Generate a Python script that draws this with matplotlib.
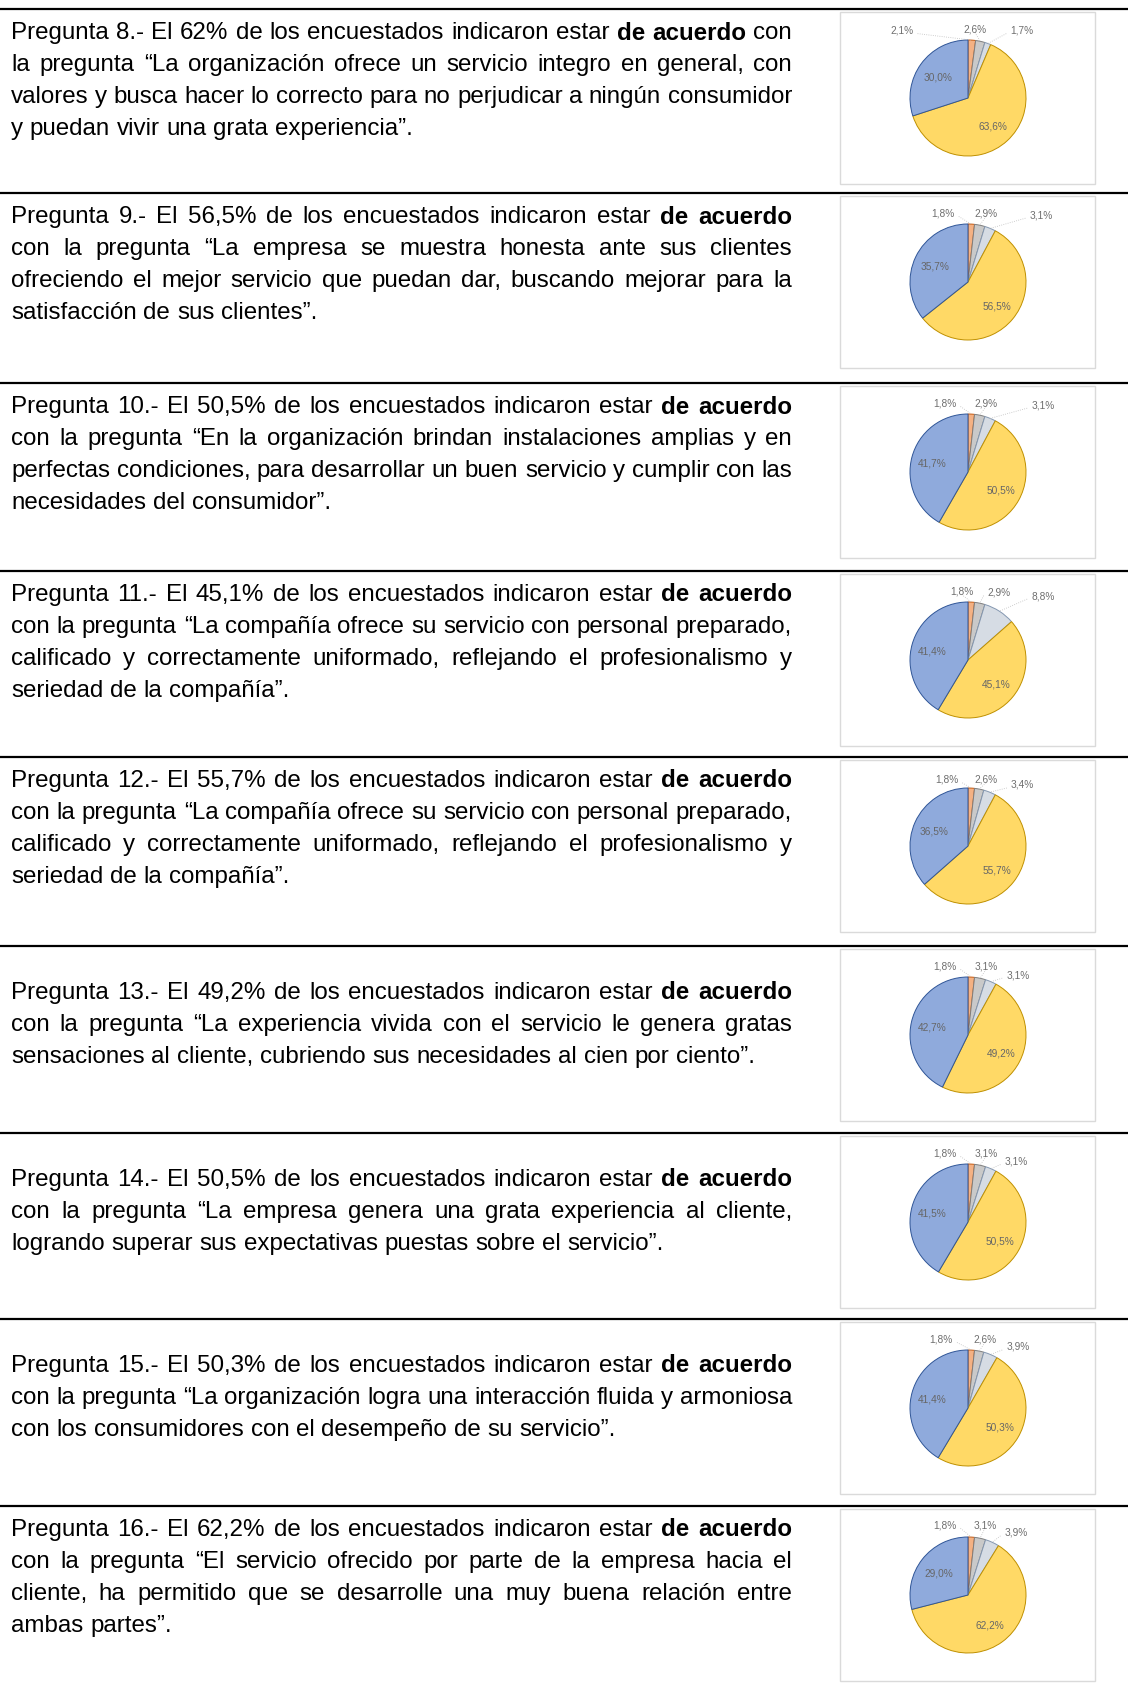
import matplotlib
matplotlib.use("Agg")
import matplotlib.pyplot as plt
from matplotlib.patches import Rectangle
import numpy as np

# --- datos ---
preguntas = [8, 9, 10, 11, 12, 13, 14, 15, 16]

parrafos = [
    ["Pregunta 8.- El 62% de los encuestados indicaron estar **de acuerdo** con",
     "la pregunta “La organización ofrece un servicio integro en general, con",
     "valores y busca hacer lo correcto para no perjudicar a ningún consumidor",
     "y puedan vivir una grata experiencia”."],
    ["Pregunta 9.- El 56,5% de los encuestados indicaron estar **de acuerdo**",
     "con la pregunta “La empresa se muestra honesta ante sus clientes",
     "ofreciendo el mejor servicio que puedan dar, buscando mejorar para la",
     "satisfacción de sus clientes”."],
    ["Pregunta 10.- El 50,5% de los encuestados indicaron estar **de acuerdo**",
     "con la pregunta “En la organización brindan instalaciones amplias y en",
     "perfectas condiciones, para desarrollar un buen servicio y cumplir con las",
     "necesidades del consumidor”."],
    ["Pregunta 11.- El 45,1% de los encuestados indicaron estar **de acuerdo**",
     "con la pregunta “La compañía ofrece su servicio con personal preparado,",
     "calificado y correctamente uniformado, reflejando el profesionalismo y",
     "seriedad de la compañía”."],
    ["Pregunta 12.- El 55,7% de los encuestados indicaron estar **de acuerdo**",
     "con la pregunta “La compañía ofrece su servicio con personal preparado,",
     "calificado y correctamente uniformado, reflejando el profesionalismo y",
     "seriedad de la compañía”."],
    ["Pregunta 13.- El 49,2% de los encuestados indicaron estar **de acuerdo**",
     "con la pregunta “La experiencia vivida con el servicio le genera gratas",
     "sensaciones al cliente, cubriendo sus necesidades al cien por ciento”."],
    ["Pregunta 14.- El 50,5% de los encuestados indicaron estar **de acuerdo**",
     "con la pregunta “La empresa genera una grata experiencia al cliente,",
     "logrando superar sus expectativas puestas sobre el servicio”."],
    ["Pregunta 15.- El 50,3% de los encuestados indicaron estar **de acuerdo**",
     "con la pregunta “La organización logra una interacción fluida y armoniosa",
     "con los consumidores con el desempeño de su servicio”."],
    ["Pregunta 16.- El 62,2% de los encuestados indicaron estar **de acuerdo**",
     "con la pregunta “El servicio ofrecido por parte de la empresa hacia el",
     "cliente, ha permitido que se desarrolle una muy buena relación entre",
     "ambas partes”."],
]

# porcentajes de cada pastel (3 respuestas pequeñas, de acuerdo, totalmente de acuerdo)
pie_q8 = [2.1, 2.6, 1.7, 63.6, 30.0]
pie_q9 = [1.8, 2.9, 3.1, 56.5, 35.7]
pie_q10 = [1.8, 2.9, 3.1, 50.5, 41.7]
pie_q11 = [1.8, 2.9, 8.8, 45.1, 41.4]
pie_q12 = [1.8, 2.6, 3.4, 55.7, 36.5]
pie_q13 = [1.8, 3.1, 3.1, 49.2, 42.7]
pie_q14 = [1.8, 3.1, 3.1, 50.5, 41.5]
pie_q15 = [1.8, 2.6, 3.9, 50.3, 41.4]
pie_q16 = [1.8, 3.1, 3.9, 62.2, 29.0]
pies = [pie_q8, pie_q9, pie_q10, pie_q11, pie_q12, pie_q13, pie_q14, pie_q15, pie_q16]

# --- estilo / layout ---
W, H = 1128, 1690
FONT = "Liberation Sans"
row_tops = [10, 194, 384, 572, 758, 947, 1134, 1320, 1507]
X0, X1 = 11, 792
LINE_SP = 32
pie_colors = ["#F4B183", "#C9C9C9", "#D6DCE4", "#FFD966", "#8FAADC"]
pie_edges = ["#C55A11", "#7F7F7F", "#8497B0", "#BF9000", "#2F5597"]
# posiciones (en radios) de las etiquetas exteriores de cada pastel
label_xy = [
    [(-1.14, 1.18), (0.12, 1.2), (0.93, 1.18)],
    [(-0.43, 1.2), (0.31, 1.2), (1.26, 1.17)],
    [(-0.4, 1.2), (0.31, 1.2), (1.29, 1.17)],
    [(-0.11, 1.2), (0.54, 1.18), (1.29, 1.12)],
    [(-0.37, 1.16), (0.31, 1.16), (0.94, 1.07)],
    [(-0.4, 1.2), (0.31, 1.2), (0.86, 1.05)],
    [(-0.4, 1.2), (0.31, 1.2), (0.83, 1.06)],
    [(-0.46, 1.2), (0.29, 1.2), (0.86, 1.07)],
    [(-0.4, 1.22), (0.29, 1.22), (0.83, 1.09)],
]

fig = plt.figure(figsize=(W / 100, H / 100), dpi=100)
ax = fig.add_axes([0, 0, 1, 1])
ax.set_xlim(0, W)
ax.set_ylim(H, 0)
ax.axis("off")
renderer = fig.canvas.get_renderer()


def text_w(s, bold, fs):
    t = ax.text(0, 0, s, fontsize=fs, family=FONT, fontweight="bold" if bold else "normal")
    w = t.get_window_extent(renderer).width
    t.remove()
    return w


def split_words(line):
    words = []
    for k, seg in enumerate(line.split("**")):
        for w in seg.split():
            words.append((w, k % 2 == 1))
    return words


# tamaño de letra ajustado a la primera línea de la pregunta 8
ws = split_words(parrafos[0][0])
nat = sum(text_w(w, b, 10) for w, b in ws) + (len(ws) - 1) * (text_w("a a", False, 10) - text_w("aa", False, 10))
FS = 10 * (X1 - X0) / nat
SPACE = text_w("a a", False, FS) - text_w("aa", False, FS)

for i, top in enumerate(row_tops):
    ax.plot([0, W], [top, top], color="black", lw=1.6, solid_capstyle="butt")

    lines = parrafos[i]
    n = len(lines)
    y0 = top + (23 if n == 4 else 46)
    for j, line in enumerate(lines):
        words = split_words(line)
        widths = [text_w(w, b, FS) for w, b in words]
        if j < n - 1 and len(words) > 1:
            gap = (X1 - X0 - sum(widths)) / (len(words) - 1)
        else:
            gap = SPACE
        x = X0
        for (w, b), wd in zip(words, widths):
            ax.text(x, y0 + j * LINE_SP, w, fontsize=FS, family=FONT,
                    fontweight="bold" if b else "normal", va="center", ha="left", color="black")
            x += wd + gap

    # marco de la imagen del pastel
    ax.add_patch(Rectangle((840, top + 3), 255, 172, facecolor="white", edgecolor="#DADADA", lw=1))

    # pastel
    r = 58
    cx, cy = 968, top + 89
    half = 1.75 * r
    pax = fig.add_axes([(cx - half) / W, 1 - (cy + half) / H, 2 * half / W, 2 * half / H])
    vals = pies[i]
    wedges, _ = pax.pie(vals, radius=1, startangle=90, counterclock=False, colors=pie_colors,
                        wedgeprops=dict(linewidth=0.7))
    for wdg, ec in zip(wedges, pie_edges):
        wdg.set_edgecolor(ec)
    pax.set_xlim(-1.75, 1.75)
    pax.set_ylim(-1.75, 1.75)
    pax.set_aspect("equal")
    pax.axis("off")

    cum = np.cumsum([0] + vals[:-1])
    for k, v in enumerate(vals):
        mid = np.deg2rad(90 - 360 * (cum[k] + v / 2) / 100)
        lab = f"{v:.1f}%".replace(".", ",")
        if k >= 3:
            pax.text(0.64 * np.cos(mid), 0.64 * np.sin(mid), lab, fontsize=7.3, family=FONT,
                     color="#666666", ha="center", va="center")
        else:
            lx, ly = label_xy[i][k]
            pax.text(lx, ly, lab, fontsize=7.3, family=FONT, color="#6E6E6E", ha="center", va="center")
            ex, ey = np.cos(mid), np.sin(mid)
            sx = lx + (0.27 if lx < ex - 0.2 else (-0.27 if lx > ex + 0.2 else 0))
            pax.plot([sx, ex], [ly - 0.07, ey], color="#BFBFBF", lw=0.6, ls=":")

fig.savefig("out.png", dpi=100)
